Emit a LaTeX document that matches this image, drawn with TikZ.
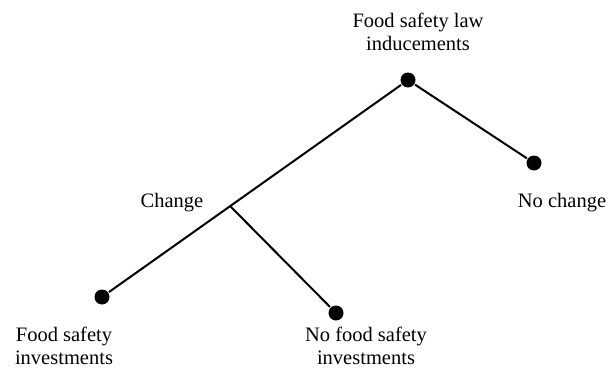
\documentclass[tikz,border=0pt]{standalone}
\usepackage{fontspec}
\setmainfont{Liberation Serif}
\usetikzlibrary{positioning}

\begin{document}
\begin{tikzpicture}[x=1pt, y=-1pt, line width=2pt,
  every node/.append style={font=\fontsize{20.5}{22.5}\selectfont, align=center, inner sep=0pt}]
\useasboundingbox (0,0) rectangle (610,369);

\begin{scope}[every node/.style={circle, fill=black, inner sep=0pt, minimum width=15pt}]
\node (root) at (408,80) {};
\node (nochg) at (534,163) {};
\node (inv) at (102,297) {};
\node (noinv) at (336,313) {};
\end{scope}

\draw (root) -- (nochg);
\draw (root) -- coordinate[pos=0.585] (chg) (inv);
\draw (chg) -- (noinv);

\node at (418,32) {Food safety law\\inducements};
\node at (172,203) {Change};
\node at (562,203) {No change};
\node at (64,346) {Food safety\\investments};
\node at (366,346) {No food safety\\investments};
\end{tikzpicture}
\end{document}
